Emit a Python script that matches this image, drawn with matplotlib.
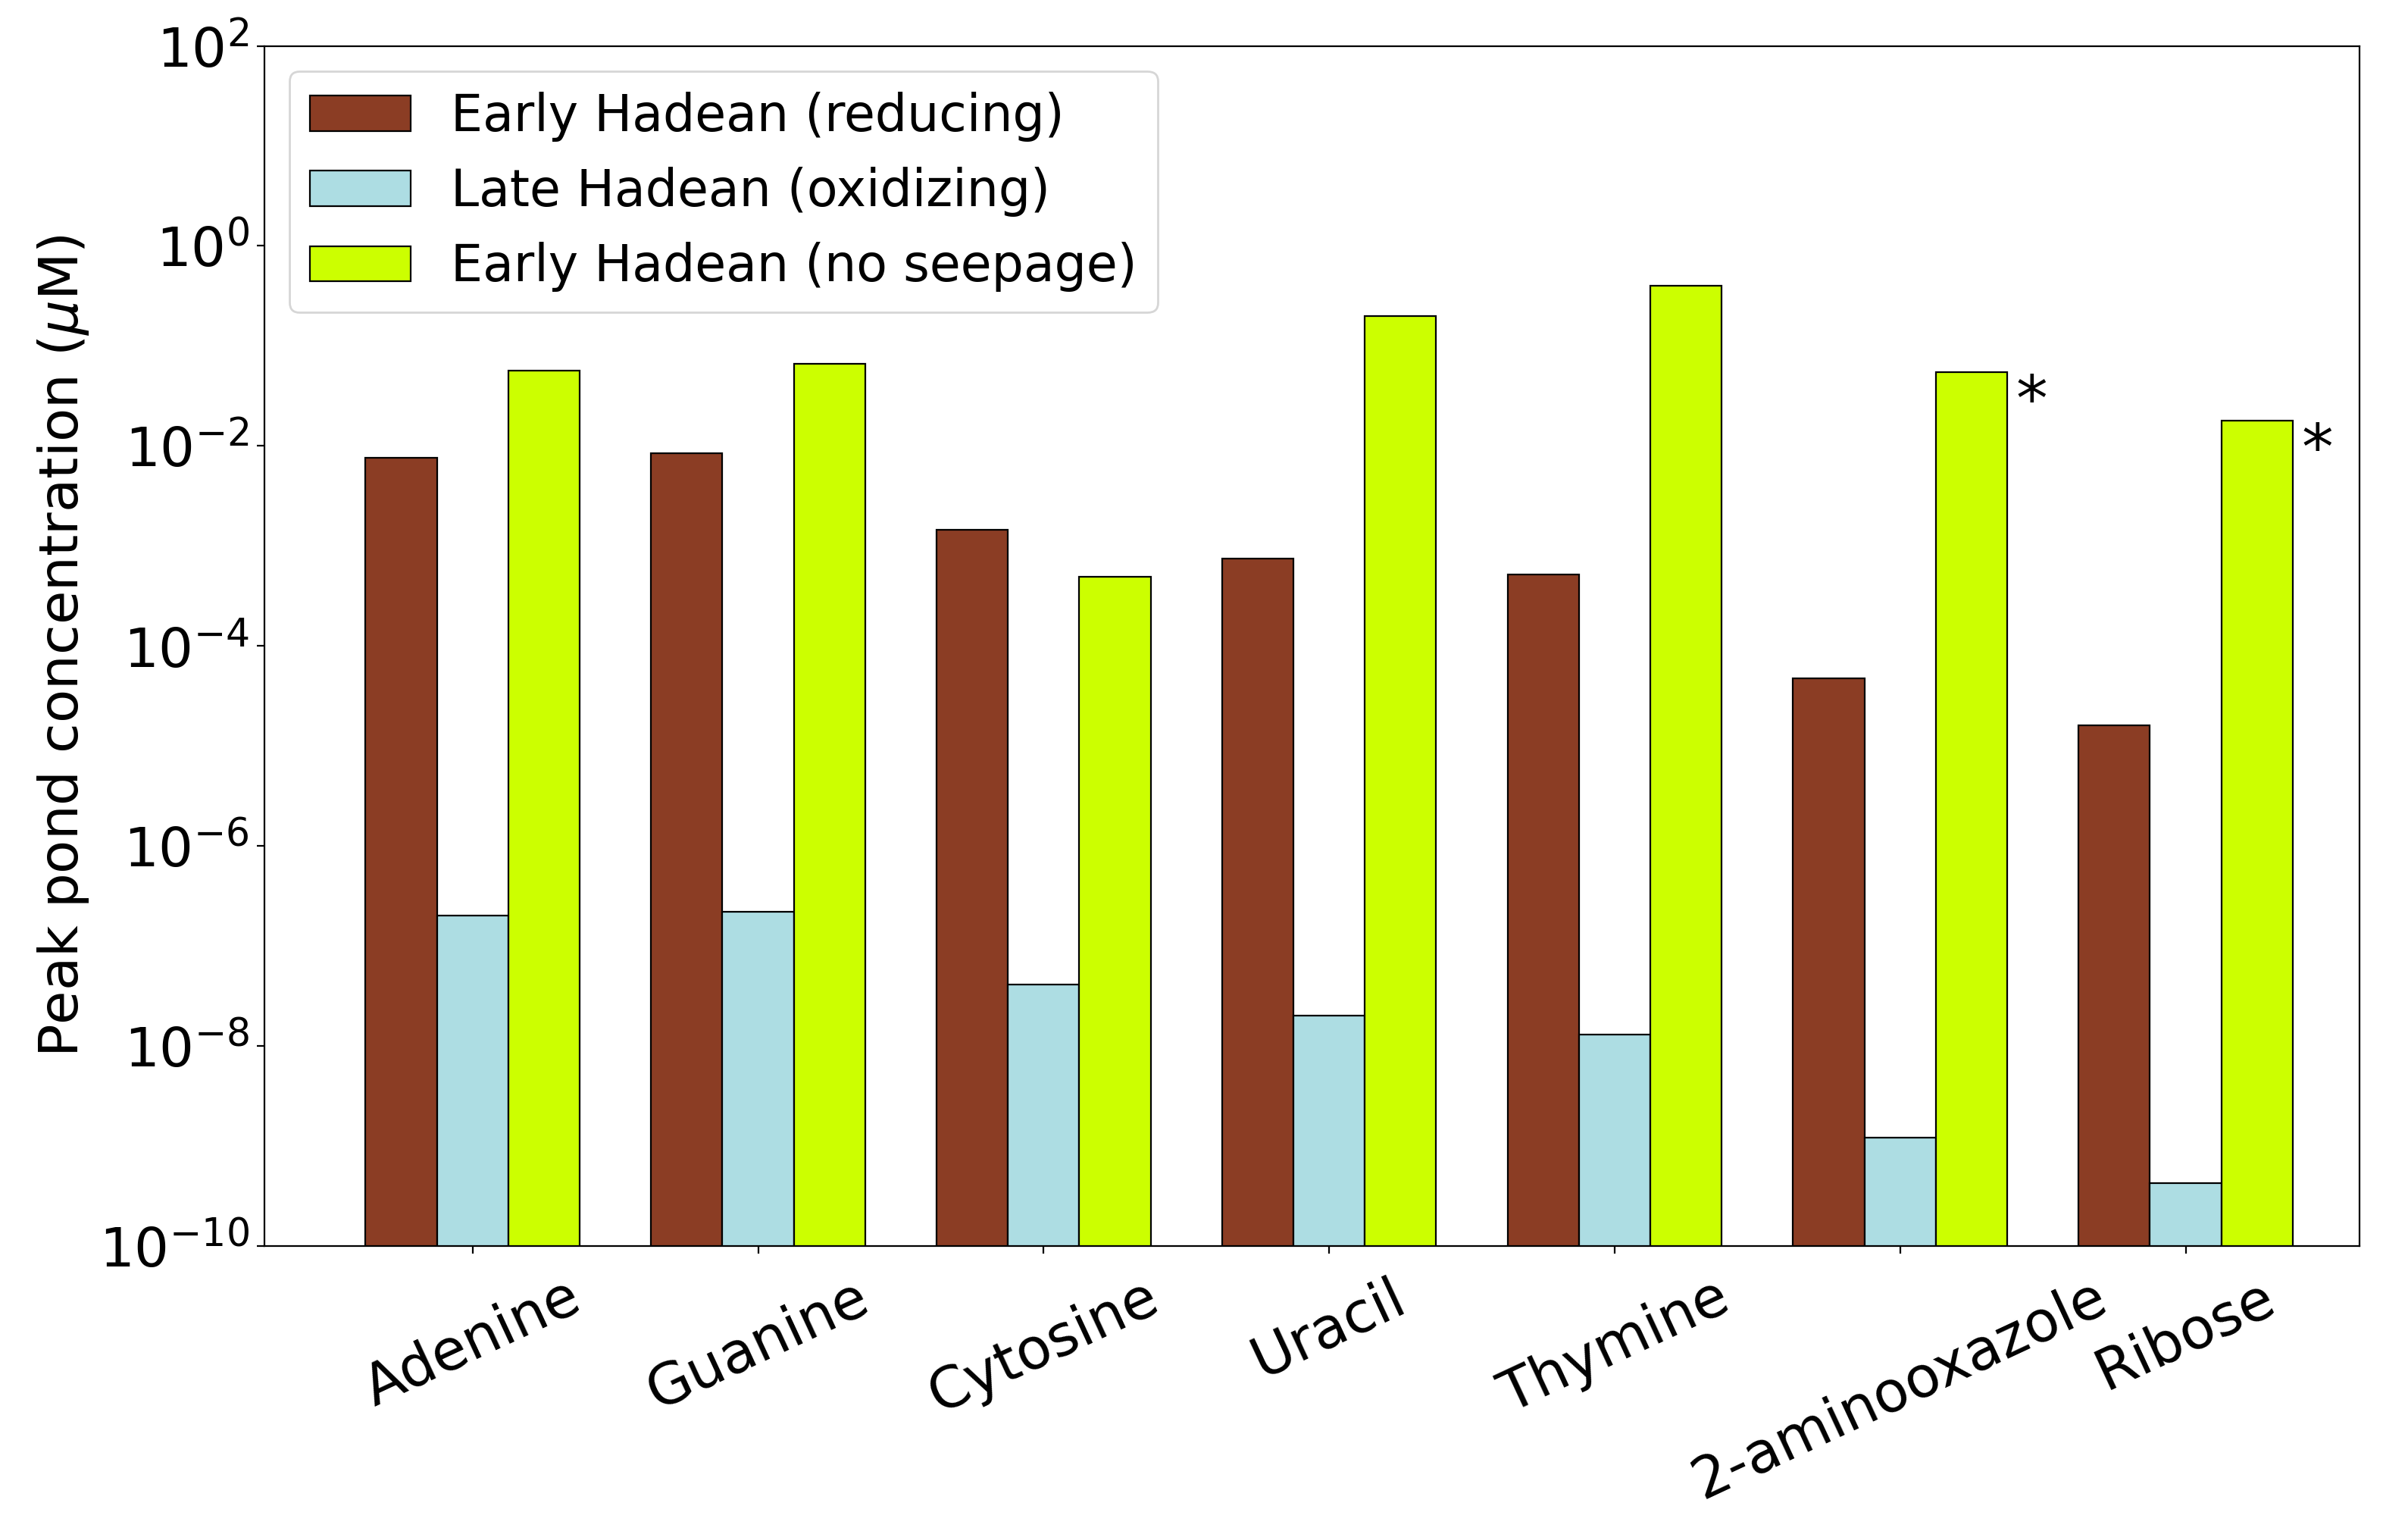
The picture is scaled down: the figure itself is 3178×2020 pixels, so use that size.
import numpy as np
import matplotlib
matplotlib.use("Agg")
import matplotlib.pyplot as plt

# data (peak pond concentration, uM)
molecules = ["Adenine", "Guanine", "Cytosine", "Uracil", "Thymine", "2-aminooxazole", "Ribose"]
early_reducing = [7.6e-3, 8.5e-3, 1.45e-3, 7.4e-4, 5.2e-4, 4.7e-5, 1.6e-5]
late_oxidizing = [2.0e-7, 2.2e-7, 4.1e-8, 2.0e-8, 1.3e-8, 1.2e-9, 4.2e-10]
early_noseep = [5.7e-2, 6.6e-2, 4.9e-4, 0.20, 0.40, 5.5e-2, 1.8e-2]
starred = ["2-aminooxazole", "Ribose"]

plt.rcParams['font.size'] = 26

fig = plt.figure(figsize=(15.89, 10.1), dpi=200)
ax = fig.add_axes([0.1097, 0.1863, 0.8703, 0.7837])

x = np.arange(len(molecules))
w = 0.25
ax.bar(x - w, early_reducing, w, color='#8B3D24', edgecolor='black', linewidth=0.8,
       label='Early Hadean (reducing)')
ax.bar(x, late_oxidizing, w, color='#ADDDE3', edgecolor='black', linewidth=0.8,
       label='Late Hadean (oxidizing)')
ax.bar(x + w, early_noseep, w, color='#CCFF00', edgecolor='black', linewidth=0.8,
       label='Early Hadean (no seepage)')

for i, m in enumerate(molecules):
    if m in starred:
        ax.text(x[i] + 1.5 * w + 0.03, early_noseep[i], '*', fontsize=30,
                ha='left', va='top')

ax.set_yscale('log')
ax.set_ylim(1e-10, 1e2)
ax.set_yticks([10.0 ** k for k in range(-10, 3, 2)])
ax.yaxis.set_minor_locator(matplotlib.ticker.NullLocator())
ax.tick_params(axis='y', labelsize=26)
ax.set_xlim(-0.73, 6.61)
ax.set_xticks(x)
ax.set_xticklabels(molecules, rotation=25, ha='center', fontsize=27)
ax.tick_params(axis='x', pad=8)
ax.set_ylabel(r'Peak pond concentration ($\mu$M)', fontsize=26)

ax.legend(loc='upper left', fontsize=24)

fig.savefig('out.png', dpi=200)
